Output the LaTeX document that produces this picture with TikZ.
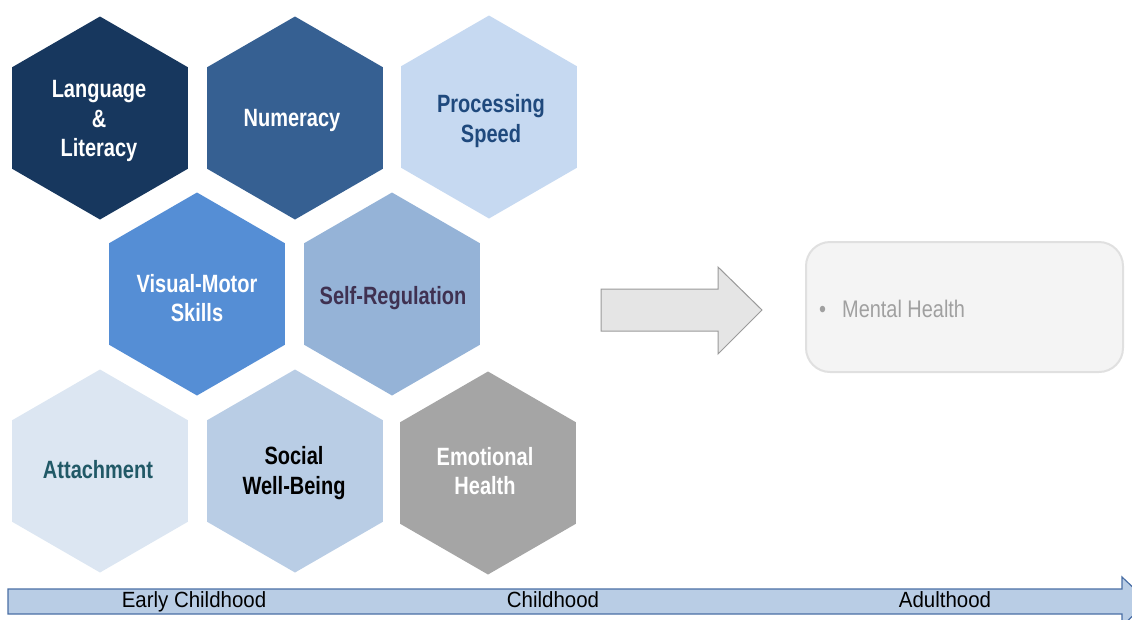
\documentclass[tikz,border=0pt]{standalone}
\usepackage{fontspec}
\setmainfont{Liberation Sans}
\newfontfamily\nfont{Liberation Sans}[FakeStretch=0.80]
\newfontfamily\mfont{Liberation Sans}[FakeStretch=0.83]
\newfontfamily\tfont{Liberation Sans}[FakeStretch=0.93]
\definecolor{cLang}{HTML}{17375E}
\definecolor{cNum}{HTML}{366092}
\definecolor{cProc}{HTML}{C6D9F1}
\definecolor{cProcT}{HTML}{1F497D}
\definecolor{cVis}{HTML}{558ED5}
\definecolor{cSelf}{HTML}{95B3D7}
\definecolor{cSelfT}{HTML}{3F3151}
\definecolor{cAtt}{HTML}{DCE6F2}
\definecolor{cAttT}{HTML}{215967}
\definecolor{cSoc}{HTML}{B9CDE5}
\definecolor{cEmo}{HTML}{A5A5A5}
\definecolor{cArrF}{HTML}{E5E5E5}
\definecolor{cArrD}{HTML}{9A9A9A}
\definecolor{cBoxF}{HTML}{F4F4F4}
\definecolor{cBoxD}{HTML}{E0E0E0}
\definecolor{cMH}{HTML}{A0A0A0}
\definecolor{cTlF}{HTML}{B9CDE5}
\definecolor{cTlD}{HTML}{4A6FA5}
\newcommand\hexshape[3]{% x, y, fill
  \fill[#3] (#1,#2) +(30:101.5) -- +(90:101.5) -- +(150:101.5) -- +(210:101.5) -- +(270:101.5) -- +(330:101.5) -- cycle;}
\begin{document}
\begin{tikzpicture}[x=1pt,y=-1pt,
  hextext/.style={align=center,font=\nfont\bfseries\fontsize{25}{29.5}\selectfont,inner sep=0pt},
  tltext/.style={font=\tfont\fontsize{22}{26}\selectfont,inner sep=0pt,text=black,anchor=base}]
\useasboundingbox (0,0) rectangle (1132,619);
% hexagons
\hexshape{100}{118}{cLang}
\hexshape{295}{118}{cNum}
\hexshape{489}{117}{cProc}
\hexshape{197}{294}{cVis}
\hexshape{392}{294}{cSelf}
\hexshape{100}{471}{cAtt}
\hexshape{295}{471}{cSoc}
\hexshape{488}{473}{cEmo}
\node[hextext,text=white] (lang) at (99,121) {Language\\\&\\Literacy};
\node[hextext,text=white] (num) at (292,120) {Numeracy};
\node[hextext,text=cProcT] (proc) at (491,121) {Processing\\Speed};
\node[hextext,text=white] (vis) at (197,298) {Visual-Motor\\Skills};
\node[hextext,text=cSelfT] (self) at (393,298) {Self-Regulation};
\node[hextext,text=cAttT] (att) at (98,470) {Attachment};
\node[hextext,text=black] (soc) at (294,473) {Social\\Well-Being};
\node[hextext,text=white] (emo) at (485,471) {Emotional\\Health};
% block arrow
\draw[fill=cArrF,draw=cArrD,line width=1pt] (601,289) -- (718,289) -- (718,267) -- (762,310) -- (718,354) -- (718,331) -- (601,331) -- cycle;
% outcome box
\draw[fill=cBoxF,draw=cBoxD,line width=2pt,rounded corners=24pt] (806,242) rectangle (1123,372);
\node[font=\mfont\fontsize{24}{28}\selectfont,text=cMH,anchor=west,inner sep=0pt] (mh) at (819,309) {\textbullet\hspace{16pt}Mental Health};
% timeline arrow
\draw[fill=cTlF,draw=cTlD,line width=1.2pt] (8,589) -- (1122,589) -- (1122,577) -- (1148,601.5) -- (1122,626) -- (1122,614) -- (8,614) -- cycle;
\node[tltext] (early) at (194,607.5) {Early Childhood};
\node[tltext] (child) at (553,607.5) {Childhood};
\node[tltext] (adult) at (945,607.5) {Adulthood};
\end{tikzpicture}
\end{document}
